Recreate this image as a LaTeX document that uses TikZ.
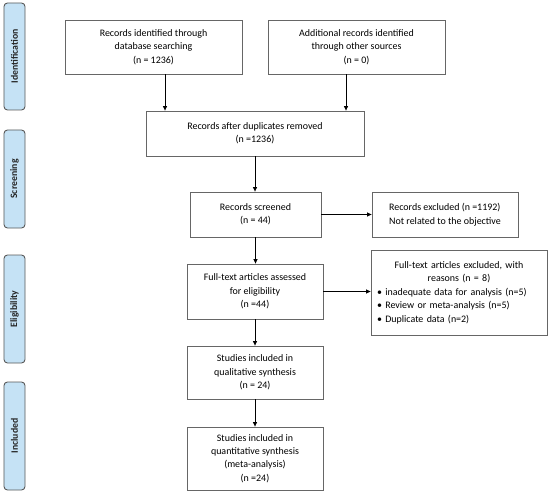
\documentclass[tikz,border=0pt]{standalone}
\usepackage{fontspec}
\setmainfont{Carlito}
\usetikzlibrary{arrows.meta,calc}
\begin{document}
\begin{tikzpicture}[x=1bp,y=-1bp,
  box/.style={draw=black!60,line width=0.8bp,fill=white,align=center,inner sep=2bp,font=\fontsize{10}{13.5}\selectfont},
  side/.style={draw=black!65,line width=0.9bp,rounded corners=3.5bp,fill={rgb,255:red,197;green,226;blue,245}},
  sidelabel/.style={rotate=90,font=\fontsize{9.8}{12}\selectfont\bfseries,text=black!85},
  arr/.style={-{Triangle[length=4.5bp,width=4bp]},line width=0.7bp,black}]
\useasboundingbox (0,0) rectangle (550,502);
% side bars
\node[side,minimum width=21bp,minimum height=107bp] (s1) at (14.5,56.5) {};
\node[sidelabel] (l1) at (s1.center) {Identification};
\node[side,minimum width=21bp,minimum height=98bp] (s2) at (14.5,179) {};
\node[sidelabel] (l2) at (s2.center) {Screening};
\node[side,minimum width=21bp,minimum height=108bp] (s3) at (14.5,309) {};
\node[sidelabel] (l3) at (s3.center) {Eligibility};
\node[side,minimum width=21bp,minimum height=108bp] (s4) at (14.5,436) {};
\node[sidelabel] (l4) at (s4.center) {Included};
% boxes
\node[box,minimum width=177bp,minimum height=54bp] (b1) at (153.5,47) {Records identified through\\database searching\\(n = 1236)};
\node[box,minimum width=177bp,minimum height=54bp] (b2) at (356.5,47) {Additional records identified\\through other sources\\(n = 0)};
\node[box,minimum width=218bp,minimum height=45bp] (b3) at (255,133.5) {Records after duplicates removed\\(n =1236)};
\node[box,minimum width=131bp,minimum height=45bp] (b4) at (255.5,214.5) {Records screened\\(n = 44)};
\node[box,minimum width=146bp,minimum height=45bp,align=left] (b5) at (445,214.5) {Records excluded (n =1192)\\Not related to the objective};
\node[box,minimum width=136bp,minimum height=55bp] (b6) at (255,291.5) {Full-text articles assessed\\for eligibility\\(n =44)};
\node[box,minimum width=176bp,minimum height=85bp,text width=164bp,align=left] (b7) at (459,292.5) {{\centering Full-text articles excluded, with\\reasons (n = 8)\par}%
\textbullet\ inadequate data for analysis (n=5)\\\textbullet\ Review or meta-analysis (n=5)\\\textbullet\ Duplicate data (n=2)};
\node[box,minimum width=136bp,minimum height=53bp] (b8) at (255,372.5) {Studies included in\\qualitative synthesis\\(n = 24)};
\node[box,minimum width=136bp,minimum height=63bp] (b9) at (255,458.5) {Studies included in\\quantitative synthesis\\(meta-analysis)\\(n =24)};
% arrows
\draw[arr] ([xshift=11.5bp]b1.south) -- ([xshift=11.5bp]b1.south |- b3.north);
\draw[arr] ([xshift=-10.5bp]b2.south) -- ([xshift=-10.5bp]b2.south |- b3.north);
\draw[arr] (b3.south) -- (b3.south |- b4.north);
\draw[arr] (b4.east) -- (b4.east -| b5.west);
\draw[arr] (b4.south) -- (b4.south |- b6.north);
\draw[arr] (b6.east) -- (b6.east -| b7.west);
\draw[arr] (b6.south) -- (b6.south |- b8.north);
\draw[arr] (b8.south) -- (b8.south |- b9.north);
\end{tikzpicture}
\end{document}
